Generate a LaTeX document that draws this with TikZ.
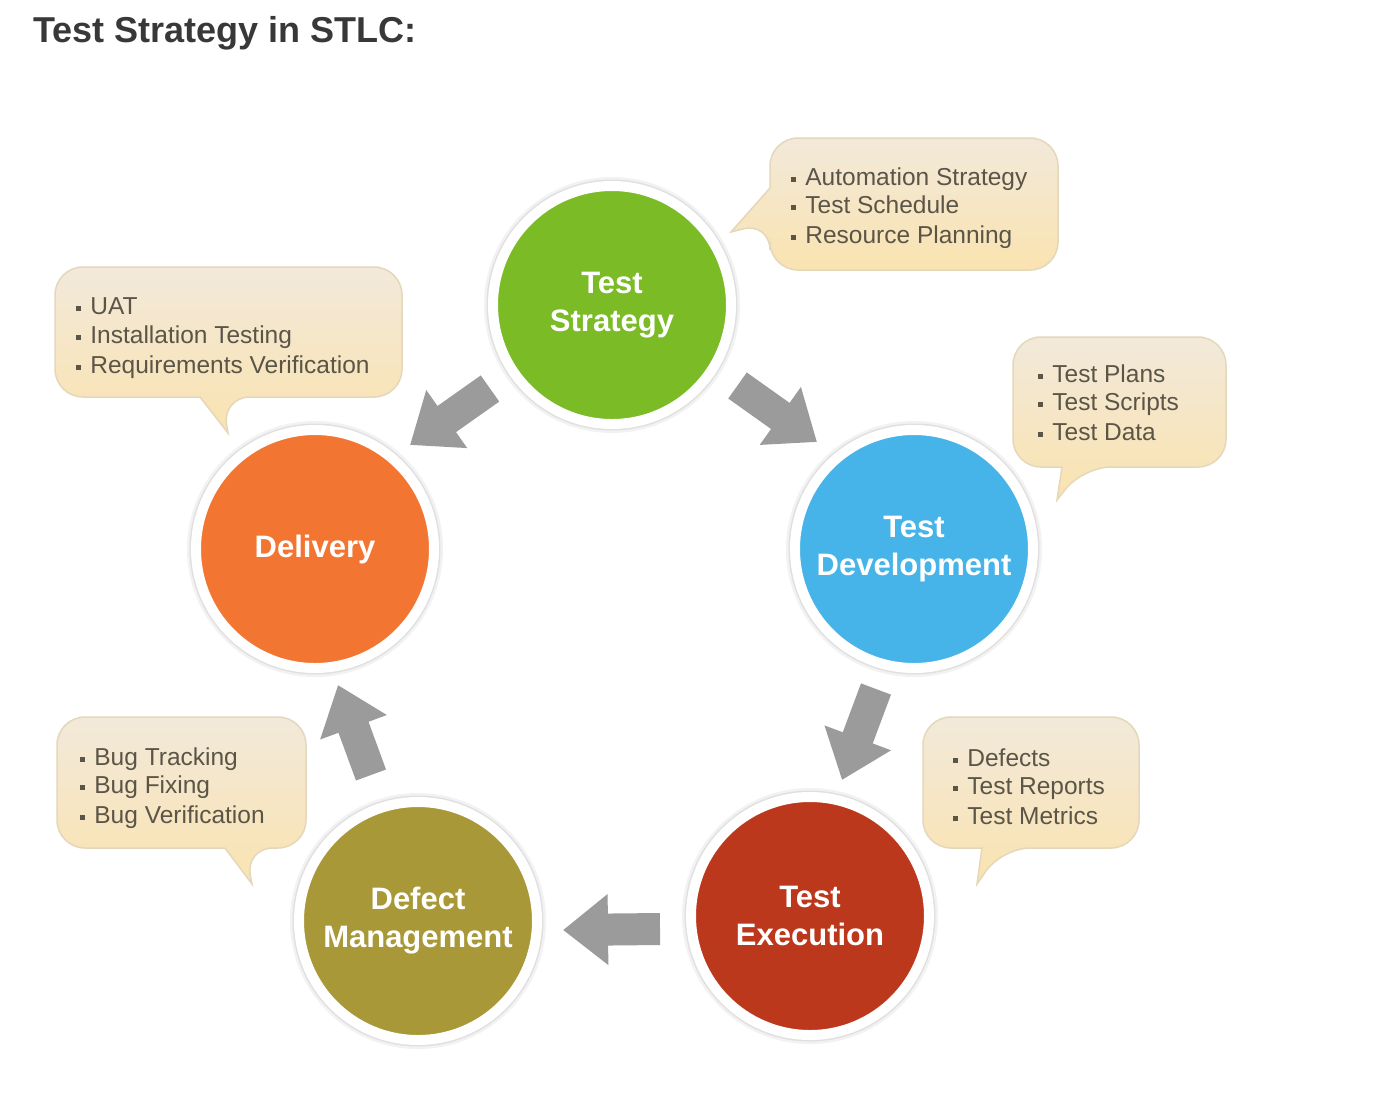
\documentclass[tikz,border=0pt]{standalone}
\usepackage{fontspec}
\setmainfont{Liberation Sans}
\usetikzlibrary{arrows.meta}
\definecolor{cgreen}{HTML}{7ABB26}
\definecolor{cblue}{HTML}{46B4E8}
\definecolor{cred}{HTML}{BC381C}
\definecolor{colive}{HTML}{A89838}
\definecolor{corange}{HTML}{F37532}
\definecolor{arrowgray}{HTML}{9B9B9B}
\definecolor{boxtop}{HTML}{F2E9DA}
\definecolor{boxbot}{HTML}{FAE3B0}
\definecolor{boxborder}{HTML}{E4D7BA}
\definecolor{itemtext}{HTML}{5B5548}
\definecolor{titlegray}{HTML}{383838}
\newcommand\bul{\rule[1.75pt]{2.5pt}{2.5pt}\hspace{4.5pt}}
\begin{document}
\begin{tikzpicture}[x=0.5pt,y=-0.5pt,
  stage/.style={circle, minimum size=119pt, inner sep=0pt, align=center,
    text=white, font=\fontsize{15.5}{19}\selectfont\bfseries,
    draw=white, line width=5pt,
    preaction={draw=black!5, line width=9pt},
    preaction={draw=black!12, line width=6.5pt}},
  callout/.style={draw=boxborder, line width=0.75pt, top color=boxtop, bottom color=boxbot},
  item/.style={anchor=base west, inner sep=0pt, text=itemtext, font=\fontsize{12.25}{14}\selectfont},
  blockarrow/.style={draw=arrowgray, line width=16pt, -{Triangle[length=22.5pt,width=34pt]}}
]
\useasboundingbox (0,0) rectangle (1394,1116);
\fill[white] (0,0) rectangle (1394,1116);

% title
\node[anchor=base west, inner sep=0pt, text=titlegray, font=\fontsize{18}{20}\selectfont\bfseries] (title) at (33,42) {Test Strategy in STLC:};

% callouts
\path[callout] [rounded corners=14pt] (900,138) -- (1058,138) -- (1058,270) -- (770,270) -- (770,222) [sharp corners] -- (731,232) -- (770,188) [rounded corners=14pt] -- (770,138) -- cycle;
\path[callout] [rounded corners=14pt] (1120,337) -- (1226,337) -- (1226,467) -- (1083,467) [sharp corners] -- (1057,500) -- (1062,467) [rounded corners=14pt] -- (1013,467) -- (1013,337) -- cycle;
\path[callout] [rounded corners=14pt] (1030,717) -- (1139,717) -- (1139,848) -- (1002,848) [sharp corners] -- (977,884) -- (982,848) [rounded corners=14pt] -- (923,848) -- (923,717) -- cycle;
\path[callout] [rounded corners=14pt] (180,717) -- (306,717) -- (306,848) -- (245,848) [sharp corners] -- (252,884) -- (225,848) [rounded corners=14pt] -- (57,848) -- (57,717) -- cycle;
\path[callout] [rounded corners=14pt] (230,267) -- (402,267) -- (402,397) -- (222,397) [sharp corners] -- (228,433) -- (200,397) [rounded corners=14pt] -- (55,397) -- (55,267) -- cycle;

% callout texts
\node[item] (s1) at (791,185) {\bul Automation Strategy};
\node[item] (s2) at (791,213) {\bul Test Schedule};
\node[item] (s3) at (791,243) {\bul Resource Planning};

\node[item] (d1) at (1038,382) {\bul Test Plans};
\node[item] (d2) at (1038,410) {\bul Test Scripts};
\node[item] (d3) at (1038,440) {\bul Test Data};

\node[item] (e1) at (953,766) {\bul Defects};
\node[item] (e2) at (953,794) {\bul Test Reports};
\node[item] (e3) at (953,824) {\bul Test Metrics};

\node[item] (m1) at (80,765) {\bul Bug Tracking};
\node[item] (m2) at (80,793) {\bul Bug Fixing};
\node[item] (m3) at (80,823) {\bul Bug Verification};

\node[item] (v1) at (76,314) {\bul UAT};
\node[item] (v2) at (76,343) {\bul Installation Testing};
\node[item] (v3) at (76,373) {\bul Requirements Verification};

% stages
\node[stage, fill=cgreen] (strategy) at (612,305) {Test\\Strategy};
\node[stage, fill=cblue] (development) at (914,549) {Test\\Development};
\node[stage, fill=cred] (execution) at (810,916) {Test\\Execution};
\node[stage, fill=colive] (defect) at (418,921) {Defect\\Management};
\node[stage, fill=corange] (delivery) at (315,549) {Delivery};

% arrows
\coordinate (a1s) at (737.5,385.5); \coordinate (a1e) at (817,442);
\coordinate (a2s) at (490,388.5);   \coordinate (a2e) at (410,445);
\coordinate (a3s) at (876,689);     \coordinate (a3e) at (842,780);
\coordinate (a4s) at (660,929);     \coordinate (a4e) at (563,930);
\coordinate (a5s) at (371,775);     \coordinate (a5e) at (338,685);
\draw[blockarrow] (a1s) -- (a1e);
\draw[blockarrow] (a2s) -- (a2e);
\draw[blockarrow] (a3s) -- (a3e);
\draw[blockarrow] (a4s) -- (a4e);
\draw[blockarrow] (a5s) -- (a5e);
\end{tikzpicture}
\end{document}
